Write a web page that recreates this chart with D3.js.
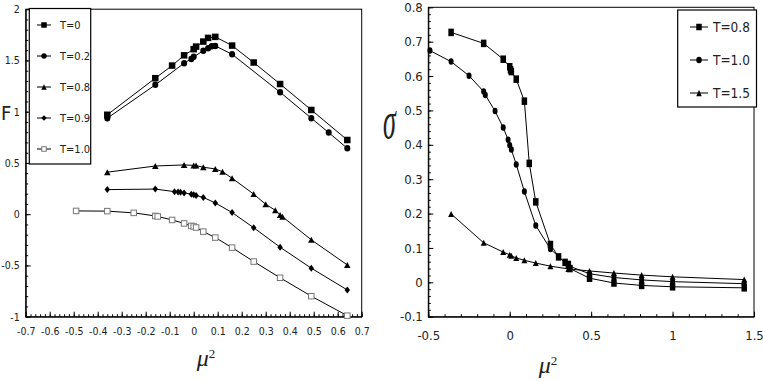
<!DOCTYPE html>
<html><head><meta charset="utf-8">
<script src="https://cdn.jsdelivr.net/npm/d3@7"></script>
<style>
body{margin:0;background:#fff}
svg{display:block}
</style></head><body>
<svg id="chart" width="763" height="381"></svg>
<script>
// ---------- LEFT PANEL DATA (F vs mu^2) ----------
const leftSeriesNames = ["T=0", "T=0.2", "T=0.8", "T=0.9", "T=1.0"];
const leftX_T0   = [-0.36,-0.16,-0.09,-0.04,0,0.01,0.04,0.06,0.09,0.16,0.25,0.36,0.49,0.64];
const leftF_T0   = [0.97,1.327,1.45,1.55,1.61,1.635,1.684,1.72,1.73,1.645,1.48,1.27,1.017,0.724];
const leftX_T02  = [-0.36,-0.16,-0.04,-0.01,0,0.04,0.06,0.075,0.09,0.16,0.36,0.49,0.5625,0.64];
const leftF_T02  = [0.937,1.262,1.473,1.515,1.535,1.595,1.62,1.638,1.642,1.56,1.19,0.937,0.796,0.643];
const leftX_T08  = [-0.36,-0.16,-0.04,0,0.01,0.04,0.09,0.12,0.16,0.25,0.30,0.34,0.36,0.37,0.49,0.64];
const leftF_T08  = [0.41,0.47,0.481,0.476,0.474,0.458,0.442,0.414,0.351,0.196,0.097,0.038,-0.007,-0.025,-0.25,-0.495];
const leftX_T09  = [-0.36,-0.16,-0.08,-0.065,-0.055,-0.04,-0.01,0,0.01,0.04,0.09,0.16,0.25,0.36,0.49,0.64];
const leftF_T09  = [0.24,0.245,0.22,0.217,0.213,0.208,0.195,0.19,0.182,0.164,0.11,0.016,-0.132,-0.322,-0.527,-0.739];
const leftX_T10  = [-0.49,-0.36,-0.25,-0.16,-0.15,-0.09,-0.04,-0.01,0,0.01,0.04,0.09,0.16,0.25,0.36,0.49,0.64];
const leftF_T10  = [0.032,0.03,0.013,-0.017,-0.022,-0.056,-0.09,-0.114,-0.12,-0.13,-0.17,-0.228,-0.326,-0.462,-0.62,-0.80,-0.99];
const leftXTicks = [-0.7,-0.6,-0.5,-0.4,-0.3,-0.2,-0.1,0,0.1,0.2,0.3,0.4,0.5,0.6,0.7];
const leftXTickLabels = ["-0.7","-0.6","-0.5","-0.4","-0.3","-0.2","-0.1","0","0.1","0.2","0.3","0.4","0.5","0.6","0.7"];
const leftYTicks = [-1,-0.5,0,0.5,1,1.5,2];
const leftYTickLabels = ["-1","-0.5","0","0.5","1","1.5","2"];

// ---------- RIGHT PANEL DATA (sigma vs mu^2) ----------
const rightSeriesNames = ["T=0.8", "T=1.0", "T=1.5"];
const rightX_T08 = [-0.36,-0.16,-0.04,0,0.005,0.01,0.04,0.09,0.12,0.16,0.25,0.3,0.34,0.36,0.37,0.49,0.64,0.81,1.0,1.44];
const rightS_T08 = [0.727,0.695,0.649,0.627,0.618,0.613,0.591,0.527,0.346,0.234,0.11,0.074,0.058,0.052,0.04,0.012,-0.002,-0.009,-0.013,-0.016];
const rightX_T10 = [-0.49,-0.36,-0.25,-0.16,-0.15,-0.09,-0.04,-0.01,0,0.01,0.04,0.09,0.16,0.25,0.36,0.49,0.64,0.81,1.0,1.44];
const rightS_T10 = [0.674,0.642,0.601,0.555,0.545,0.498,0.45,0.415,0.399,0.386,0.343,0.264,0.165,0.097,0.048,0.025,0.014,0.007,0.002,-0.004];
const rightX_T15 = [-0.36,-0.16,-0.04,0,0.01,0.04,0.09,0.16,0.25,0.36,0.49,0.64,0.81,1.0,1.44];
const rightS_T15 = [0.199,0.115,0.088,0.08,0.077,0.071,0.064,0.056,0.047,0.039,0.033,0.027,0.021,0.016,0.008];
const rightXTicks = [-0.5,0,0.5,1,1.5];
const rightXTickLabels = ["-0.5","0","0.5","1","1.5"];
const rightYTicks = [-0.1,0,0.1,0.2,0.3,0.4,0.5,0.6,0.7,0.8];
const rightYTickLabels = ["-0.1","0","0.1","0.2","0.3","0.4","0.5","0.6","0.7","0.8"];

const svg = d3.select("#chart");
const FONT = "'Liberation Sans Narrow','DejaVu Sans Condensed',sans-serif";

function zip(xs, ys){ return xs.map((x,i)=>({x, y: ys[i]})); }
function range(a, b, step){ const out=[]; const n=Math.round((b-a)/step); for(let i=0;i<=n;i++) out.push(+(a+i*step).toFixed(6)); return out; }

function drawMarker(g, type, cx, cy, s){
  if(type==="square"){
    g.append("rect").attr("x",cx-s.w/2).attr("y",cy-s.h/2).attr("width",s.w).attr("height",s.h).attr("fill","#000");
  } else if(type==="open"){
    g.append("rect").attr("x",cx-s.w/2+0.5).attr("y",cy-s.h/2+0.5).attr("width",s.w-1).attr("height",s.h-1)
      .attr("fill","#fff").attr("stroke","#777").attr("stroke-width",1);
  } else if(type==="circle"){
    g.append("ellipse").attr("cx",cx).attr("cy",cy).attr("rx",s.w/2).attr("ry",s.h/2).attr("fill","#000");
  } else if(type==="triangle"){
    g.append("path").attr("d",`M${cx},${cy-s.h/2}L${cx+s.w/2},${cy+s.h/2}L${cx-s.w/2},${cy+s.h/2}Z`).attr("fill","#000");
  } else if(type==="diamond"){
    g.append("path").attr("d",`M${cx},${cy-s.h/2}L${cx+s.w/2},${cy}L${cx},${cy+s.h/2}L${cx-s.w/2},${cy}Z`).attr("fill","#000");
  }
}

function panel(cfg){
  const g = svg.append("g");
  const x = d3.scaleLinear().domain(cfg.xDomain).range(cfg.xRange);
  const y = d3.scaleLinear().domain(cfg.yDomain).range(cfg.yRange);
  // frame
  g.append("rect").attr("x",cfg.xRange[0]).attr("y",cfg.yRange[1])
    .attr("width",cfg.xRange[1]-cfg.xRange[0]).attr("height",cfg.yRange[0]-cfg.yRange[1])
    .attr("fill","none").attr("stroke","#000").attr("stroke-width",1);
  // minor ticks
  g.append("g").attr("transform",`translate(0,${cfg.yRange[0]})`)
    .call(d3.axisBottom(x).tickValues(cfg.xMinor).tickSizeInner(-2.5).tickSizeOuter(0).tickFormat(""))
    .call(s=>s.select(".domain").remove());
  g.append("g").attr("transform",`translate(${cfg.xRange[0]},0)`)
    .call(d3.axisLeft(y).tickValues(cfg.yMinor).tickSizeInner(-2.5).tickSizeOuter(0).tickFormat(""))
    .call(s=>s.select(".domain").remove());
  // major axes
  const ax = g.append("g").attr("transform",`translate(0,${cfg.yRange[0]})`)
    .call(d3.axisBottom(x).tickValues(cfg.xTicks).tickSizeInner(-5).tickSizeOuter(0).tickPadding(cfg.xPad)
      .tickFormat((d,i)=>cfg.xLabels[i]));
  ax.select(".domain").attr("stroke","#000");
  ax.selectAll("text").attr("font-family",FONT).attr("font-size",cfg.tickFont).attr("fill","#222");
  const ay = g.append("g").attr("transform",`translate(${cfg.xRange[0]},0)`)
    .call(d3.axisLeft(y).tickValues(cfg.yTicks).tickSizeInner(-5).tickSizeOuter(0).tickPadding(cfg.yPad)
      .tickFormat((d,i)=>cfg.yLabels[i]));
  ay.select(".domain").attr("stroke","#000");
  ay.selectAll("text").attr("font-family",FONT).attr("font-size",cfg.tickFont).attr("fill","#222");
  g.selectAll(".tick line").attr("stroke","#000");

  const line = d3.line().x(d=>x(d.x)).y(d=>y(d.y));
  cfg.series.forEach(s=>{
    const pts = zip(s.xs, s.ys);
    g.append("path").datum(pts).attr("d",line).attr("fill","none").attr("stroke","#000").attr("stroke-width",1);
    const mg = g.append("g");
    pts.forEach(p=>drawMarker(mg, s.marker, x(p.x), y(p.y), s.size));
  });

  // legend
  const L = cfg.legend;
  const lg = g.append("g");
  lg.append("rect").attr("x",L.x0).attr("y",L.y0).attr("width",L.x1-L.x0).attr("height",L.y1-L.y0)
    .attr("fill","#fff").attr("stroke","#000").attr("stroke-width",1.2);
  cfg.series.forEach((s,i)=>{
    const yy = L.rowY[i];
    lg.append("line").attr("x1",L.lx0).attr("x2",L.lx1).attr("y1",yy).attr("y2",yy).attr("stroke","#000");
    drawMarker(lg, s.marker, (L.lx0+L.lx1)/2, yy, L.msize);
    lg.append("text").attr("x",L.tx).attr("y",yy).attr("dy","0.36em").attr("font-family",FONT)
      .attr("font-size",L.font).attr("fill","#222").text(s.name);
  });
  return {x,y};
}

const sqL = {w:6.5,h:6.5};
panel({
  xDomain:[-0.7,0.7], xRange:[25.7,361.7], yDomain:[-1,2], yRange:[316.7,9.2],
  xTicks:leftXTicks, xLabels:leftXTickLabels, yTicks:leftYTicks, yLabels:leftYTickLabels,
  xMinor:range(-0.7,0.7,0.02), yMinor:range(-1,2,0.1),
  xPad:11, yPad:6, tickFont:"10.5px",
  series:[
    {name:leftSeriesNames[0], xs:leftX_T0, ys:leftF_T0, marker:"square", size:sqL},
    {name:leftSeriesNames[1], xs:leftX_T02, ys:leftF_T02, marker:"circle", size:{w:6,h:6.5}},
    {name:leftSeriesNames[2], xs:leftX_T08, ys:leftF_T08, marker:"triangle", size:{w:6.5,h:6}},
    {name:leftSeriesNames[3], xs:leftX_T09, ys:leftF_T09, marker:"diamond", size:{w:5.5,h:7}},
    {name:leftSeriesNames[4], xs:leftX_T10, ys:leftF_T10, marker:"open", size:{w:6.5,h:6.5}}
  ],
  legend:{x0:29.3,x1:90.7,y0:8.5,y1:164,rowY:[25,56,87,118,149],lx0:37,lx1:51,tx:60,font:"11px",msize:{w:5.5,h:5.5}}
});

panel({
  xDomain:[-0.5,1.5], xRange:[428.3,754], yDomain:[-0.1,0.8], yRange:[316.7,7.3],
  xTicks:rightXTicks, xLabels:rightXTickLabels, yTicks:rightYTicks, yLabels:rightYTickLabels,
  xMinor:range(-0.5,1.5,0.1), yMinor:range(-0.1,0.8,0.02),
  xPad:14, yPad:5.5, tickFont:"13px",
  series:[
    {name:rightSeriesNames[0], xs:rightX_T08, ys:rightS_T08, marker:"square", size:{w:5.5,h:7.5}},
    {name:rightSeriesNames[1], xs:rightX_T10, ys:rightS_T10, marker:"circle", size:{w:5,h:6.5}},
    {name:rightSeriesNames[2], xs:rightX_T15, ys:rightS_T15, marker:"triangle", size:{w:6,h:6}}
  ],
  legend:{x0:677.7,x1:756.5,y0:10,y1:107,rowY:[27,60,93],lx0:690,lx1:708,tx:713,font:"13.5px",msize:{w:5.5,h:6.5}}
});

// axis titles
svg.append("text").attr("x",1).attr("y",120).attr("font-family",FONT)
  .attr("font-size","20px").attr("fill","#222").text("F");
function muSq(cx, baseline){
  const t = svg.append("text").attr("x",cx).attr("y",baseline).attr("font-family","'Liberation Serif','DejaVu Serif',serif")
    .attr("font-style","italic").attr("font-size","24px").attr("fill","#222").attr("text-anchor","middle");
  t.append("tspan").text("μ");
  t.append("tspan").attr("dy","-0.6em").attr("font-size","13px").attr("font-style","normal").text("2");
}
muSq(206, 366);
muSq(548, 373);
svg.append("text").attr("transform","translate(383,138) scale(1,2)").attr("font-family","'Liberation Serif','DejaVu Serif',serif")
  .attr("font-style","italic").attr("font-size","26px").attr("fill","#222").text("σ");
</script>
</body></html>
